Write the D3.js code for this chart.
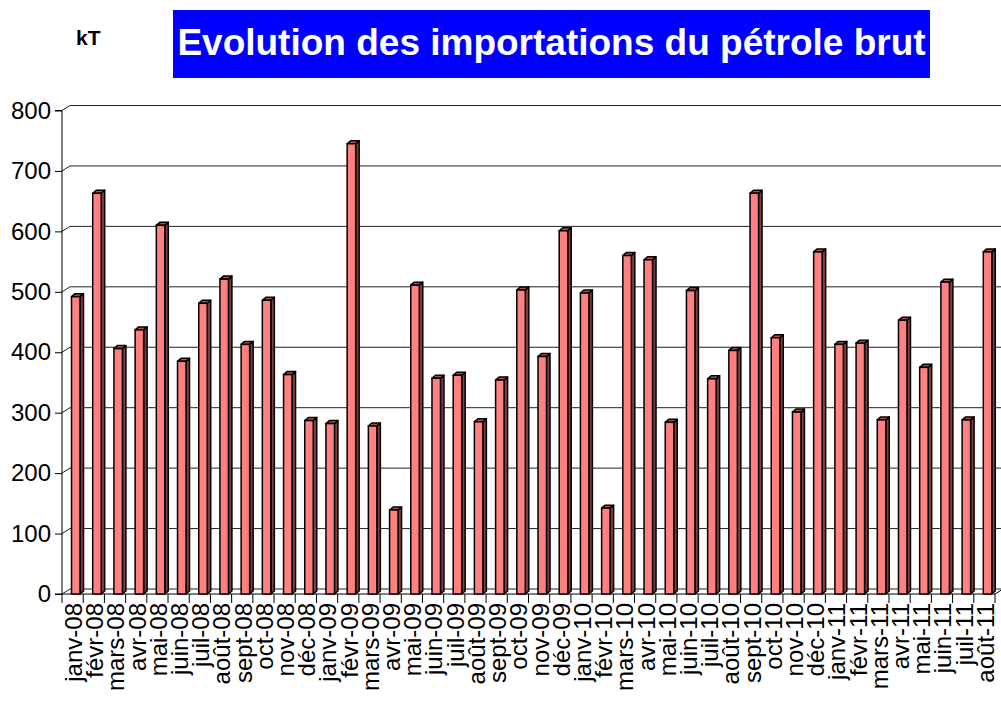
<!DOCTYPE html>
<html>
<head>
<meta charset="utf-8">
<script src="https://cdn.jsdelivr.net/npm/d3@7"></script>
<style>
  body { margin: 0; background: #fff; }
  svg { display: block; font-family: "Liberation Sans", Arial, sans-serif; }
</style>
</head>
<body>
<svg id="chart" width="1001" height="704"></svg>
<script>
// months on the x axis
const months = [
  "janv-08", "févr-08", "mars-08", "avr-08", "mai-08", "juin-08", "juil-08", "août-08", "sept-08", "oct-08", "nov-08", "déc-08",
  "janv-09", "févr-09", "mars-09", "avr-09", "mai-09", "juin-09", "juil-09", "août-09", "sept-09", "oct-09", "nov-09", "déc-09",
  "janv-10", "févr-10", "mars-10", "avr-10", "mai-10", "juin-10", "juil-10", "août-10", "sept-10", "oct-10", "nov-10", "déc-10",
  "janv-11", "févr-11", "mars-11", "avr-11", "mai-11", "juin-11", "juil-11", "août-11"
];

// crude oil imports, kT
const imports = [
  492, 663, 406, 437, 610, 385, 481, 521, 413, 486, 363, 287,
  282, 745, 278, 139, 511, 357, 362, 285, 354, 503, 393, 601,
  498, 142, 560, 553, 284, 502, 356, 403, 663, 424, 301, 566,
  413, 415, 288, 453, 375, 516, 288, 566
];

const yTicks = [0, 100, 200, 300, 400, 500, 600, 700, 800];

const svg = d3.select("#chart");

// plot area (front plane) and 3d depth offset of the back wall
const plotLeft = 62, plotRight = 995, plotBottom = 594, plotTop = 110.5;
const dx = 8, dy = -5;

const x = d3.scaleBand()
    .domain(months)
    .range([plotLeft, plotRight])
    .paddingInner(0)
    .paddingOuter(0);

const y = d3.scaleLinear()
    .domain([0, 800])
    .range([plotBottom, plotTop]);

// gridlines on the back wall, with the little diagonal on the side wall
yTicks.forEach(t => {
    svg.append("path")
        .attr("d", `M${plotLeft},${y(t)} L${plotLeft + dx},${y(t) + dy} L1001,${y(t) + dy}`)
        .attr("fill", "none")
        .attr("stroke", "#222")
        .attr("stroke-width", 1);
});

// floor front edge + right diagonal
svg.append("path")
    .attr("d", `M${plotLeft},${plotBottom} L${plotRight},${plotBottom} L${plotRight + dx},${plotBottom + dy}`)
    .attr("fill", "none")
    .attr("stroke", "#000")
    .attr("stroke-width", 1);

// y axis
const yAxis = d3.axisLeft(y)
    .tickValues(yTicks)
    .tickSize(7)
    .tickPadding(4);

const yg = svg.append("g")
    .attr("transform", `translate(${plotLeft},0)`)
    .call(yAxis);
yg.select(".domain").attr("d", `M-7,${plotTop}H0V${plotBottom}H-7`).attr("stroke", "#000");
yg.selectAll("line").attr("stroke", "#000");
yg.selectAll("text")
    .attr("font-size", "24px")
    .attr("fill", "#000")
    .attr("font-family", "'Liberation Sans', Arial, sans-serif");

// x axis ticks between categories
const xTickPos = months.map(m => x(m)).concat([plotRight]);
svg.selectAll(".xtick")
    .data(xTickPos)
    .enter()
    .append("line")
    .attr("class", "xtick")
    .attr("x1", d => d)
    .attr("x2", d => d)
    .attr("y1", plotBottom)
    .attr("y2", plotBottom + 9)
    .attr("stroke", "#000");

// x labels, rotated
svg.selectAll(".xlabel")
    .data(months)
    .enter()
    .append("text")
    .attr("class", "xlabel")
    .attr("text-anchor", "end")
    .attr("dy", "0.35em")
    .attr("transform", d => `translate(${x(d) + x.bandwidth() / 2 + 1},${plotBottom + 9}) rotate(-90)`)
    .attr("font-size", "24px")
    .attr("fill", "#000")
    .text(d => d);

// 3d columns
const barW = 8.5, depth = 3.5, rise = 3;
const bars = svg.selectAll(".bar")
    .data(months.map((m, i) => ({ month: m, value: imports[i] })))
    .enter()
    .append("g")
    .attr("class", "bar");

bars.append("path")  // side face
    .attr("d", d => {
        const x0 = x(d.month) + 9.5 + barW, yt = y(d.value);
        return `M${x0},${yt} L${x0 + depth},${yt - rise} L${x0 + depth},${plotBottom - rise} L${x0},${plotBottom} Z`;
    })
    .attr("fill", "#803f3f")
    .attr("stroke", "#000")
    .attr("stroke-width", 1.5)
    .attr("stroke-linejoin", "round");

bars.append("path")  // top face
    .attr("d", d => {
        const x0 = x(d.month) + 9.5, yt = y(d.value);
        return `M${x0},${yt} L${x0 + depth},${yt - rise} L${x0 + barW + depth},${yt - rise} L${x0 + barW},${yt} Z`;
    })
    .attr("fill", "#b05050")
    .attr("stroke", "#000")
    .attr("stroke-width", 1.5)
    .attr("stroke-linejoin", "round");

bars.append("rect")  // front face
    .attr("x", d => x(d.month) + 9.5)
    .attr("y", d => y(d.value))
    .attr("width", barW)
    .attr("height", d => plotBottom - y(d.value))
    .attr("fill", "#ff8080")
    .attr("stroke", "#000")
    .attr("stroke-width", 1.5);

// title box
svg.append("rect")
    .attr("x", 173)
    .attr("y", 10)
    .attr("width", 757)
    .attr("height", 68)
    .attr("fill", "#0000ff");

svg.append("text")
    .attr("x", 551.5)
    .attr("y", 55)
    .attr("text-anchor", "middle")
    .attr("font-size", "37px")
    .attr("font-weight", "bold")
    .attr("fill", "#fff")
    .text("Evolution des importations du pétrole brut");

// unit label
svg.append("text")
    .attr("x", 76)
    .attr("y", 45)
    .attr("font-size", "21px")
    .attr("font-weight", "bold")
    .attr("fill", "#000")
    .text("kT");
</script>
</body>
</html>
